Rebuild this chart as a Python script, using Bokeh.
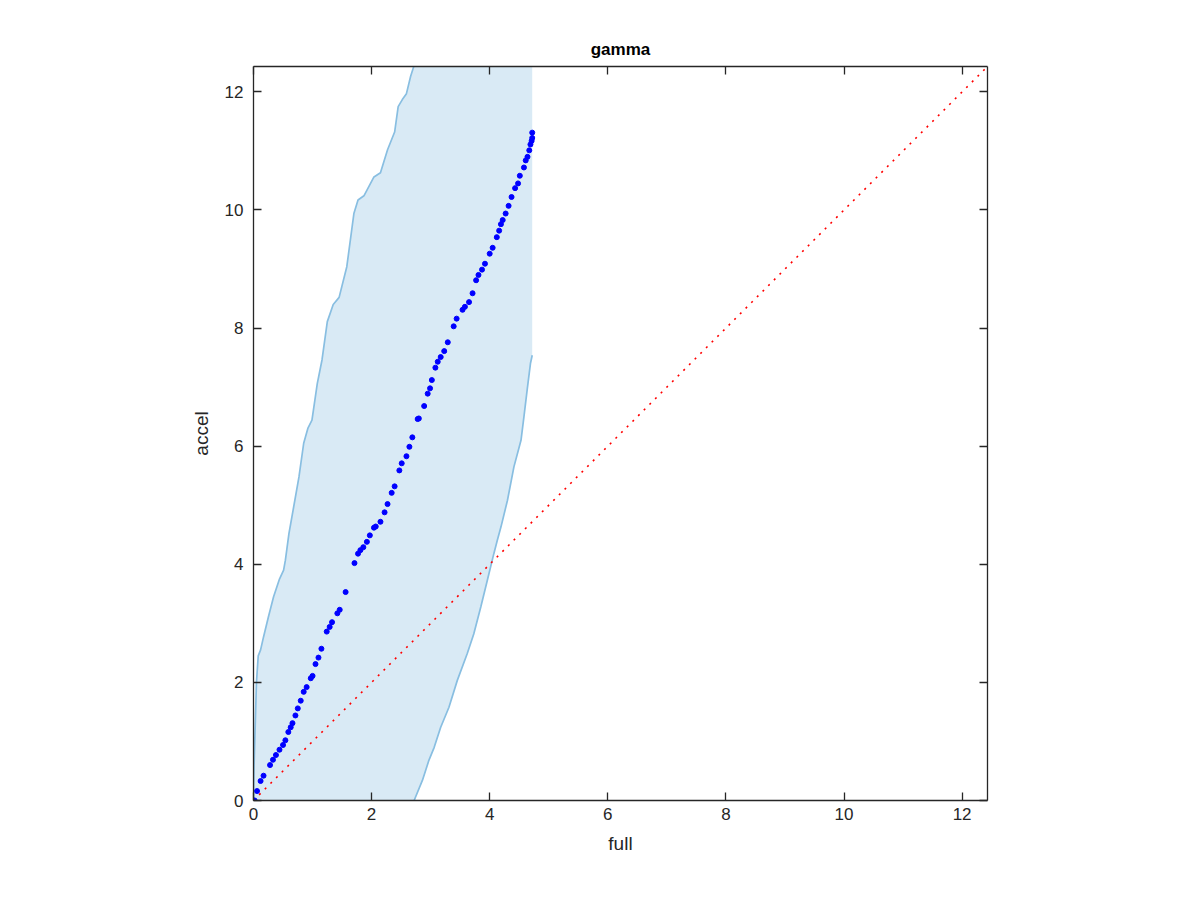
from bokeh.plotting import figure
from bokeh.models import LinearAxis, FixedTicker, Range1d
from bokeh.embed import file_html
from bokeh.resources import INLINE

# ---- data ----
qq_full = [0.0, 0.02, 0.06, 0.12, 0.17, 0.28, 0.33, 0.38, 0.44, 0.50, 0.54, 0.59, 0.63, 0.66,
           0.71, 0.75, 0.80, 0.85, 0.90, 0.97, 1.00, 1.05, 1.10, 1.15, 1.24, 1.29, 1.33,
           1.42, 1.46, 1.56, 1.71, 1.77, 1.81, 1.86, 1.92, 1.97, 2.04, 2.07, 2.15, 2.22,
           2.27, 2.34, 2.39, 2.47, 2.51, 2.59, 2.64, 2.69, 2.78, 2.80, 2.89, 2.95, 2.99,
           3.02, 3.08, 3.12, 3.17, 3.23, 3.29, 3.39, 3.44, 3.54, 3.58, 3.65, 3.71, 3.77,
           3.81, 3.87, 3.92, 4.00, 4.05, 4.12, 4.16, 4.19, 4.22, 4.27, 4.32, 4.37, 4.43,
           4.48, 4.51, 4.58, 4.61, 4.64, 4.67, 4.69, 4.71, 4.72, 4.72]
qq_accel = [0.0, 0.0, 0.16, 0.33, 0.42, 0.60, 0.69, 0.77, 0.86, 0.94, 1.02, 1.16, 1.24, 1.31,
            1.44, 1.56, 1.69, 1.84, 1.92, 2.07, 2.11, 2.31, 2.42, 2.57, 2.86, 2.94, 3.02,
            3.17, 3.23, 3.53, 4.02, 4.18, 4.24, 4.29, 4.38, 4.49, 4.62, 4.64, 4.72, 4.88,
            5.02, 5.21, 5.32, 5.59, 5.71, 5.83, 5.99, 6.15, 6.46, 6.47, 6.68, 6.89, 6.98,
            7.12, 7.33, 7.43, 7.51, 7.61, 7.76, 8.03, 8.16, 8.31, 8.36, 8.44, 8.59, 8.81,
            8.90, 8.99, 9.09, 9.26, 9.36, 9.54, 9.65, 9.76, 9.83, 9.94, 10.07, 10.22, 10.37,
            10.45, 10.58, 10.72, 10.84, 10.90, 11.01, 11.11, 11.17, 11.22, 11.31]

upper_x = [0.0, 0.01, 0.03, 0.05, 0.08, 0.12, 0.17, 0.25, 0.34, 0.44, 0.51, 0.54, 0.60, 0.68,
           0.77, 0.85, 0.92, 0.99, 1.08, 1.16, 1.25, 1.35, 1.45, 1.58, 1.70, 1.77, 1.87,
           2.04, 2.15, 2.27, 2.39, 2.45, 2.52, 2.59, 2.66, 2.72, 2.80, 3.50, 4.72]
upper_y = [0.0, 0.60, 1.30, 2.00, 2.45, 2.55, 2.77, 3.10, 3.45, 3.75, 3.90, 4.07, 4.52, 4.97,
           5.48, 6.05, 6.30, 6.44, 7.06, 7.46, 8.11, 8.40, 8.52, 9.04, 9.94, 10.17, 10.24,
           10.56, 10.63, 11.02, 11.32, 11.75, 11.87, 11.97, 12.26, 12.45, 12.70, 14.00, 16.50]

lower_x = [2.72, 2.86, 2.97, 3.06, 3.17, 3.31, 3.45, 3.62, 3.73, 3.85, 3.96, 4.07, 4.13,
           4.19, 4.30, 4.41, 4.53, 4.58, 4.64, 4.69, 4.72]
lower_y = [0.00, 0.34, 0.68, 0.90, 1.24, 1.58, 2.03, 2.49, 2.82, 3.28, 3.73, 4.18, 4.41,
           4.63, 5.08, 5.65, 6.10, 6.50, 7.00, 7.40, 7.54]

ref_line = [0.0, 12.43]
ticks = [0, 2, 4, 6, 8, 10, 12]
axis_max = 12.43

FONT = "Liberation Sans"
AX_COL = "#262626"

p = figure(frame_width=734, frame_height=734, min_border_left=253, min_border_top=66,
           min_border_right=40, min_border_bottom=70,
           x_range=Range1d(0, axis_max), y_range=Range1d(0, axis_max),
           output_backend="svg", toolbar_location=None, x_axis_location=None,
           y_axis_location=None, title="gamma")
p.grid.visible = False
p.outline_line_color = None
p.background_fill_color = "white"
p.border_fill_color = "white"

p.title.align = "center"
p.title.text_font = FONT
p.title.text_font_size = "17px"
p.title.text_font_style = "bold"
p.title.text_color = "black"
p.title.standoff = 16

# band fill polygon
poly_x = lower_x + upper_x[::-1]
poly_y = lower_y + upper_y[::-1]
p.patch(poly_x, poly_y, fill_color="#D9EAF5", line_color=None)
p.line(upper_x, upper_y, line_color="#88BEE1", line_width=1.7)
p.line(lower_x, lower_y, line_color="#88BEE1", line_width=1.7)

# reference diagonal
p.line(ref_line, ref_line, line_color="red", line_width=1.6, line_dash="2 6")

# qq points
p.scatter(qq_full, qq_accel, size=5, fill_color="blue", line_color="blue")

def mk_axis(show_labels, label=None):
    ax = LinearAxis(ticker=FixedTicker(ticks=ticks))
    ax.major_tick_in = 8
    ax.major_tick_out = 0
    ax.minor_tick_line_color = None
    ax.axis_line_color = AX_COL
    ax.axis_line_width = 1.3
    ax.major_tick_line_color = AX_COL
    ax.major_tick_line_width = 1.3
    ax.major_label_text_font = FONT
    ax.major_label_text_font_size = "17px"
    ax.major_label_text_color = AX_COL if show_labels else None
    if label:
        ax.axis_label = label
        ax.axis_label_text_font = FONT
        ax.axis_label_text_font_size = "19px"
        ax.axis_label_text_font_style = "normal"
        ax.axis_label_text_color = AX_COL
    return ax

xb = mk_axis(True, "full")
xb.major_label_standoff = 7
xb.axis_label_standoff = 10
p.add_layout(xb, "below")

yl = mk_axis(True, "accel")
yl.major_label_standoff = 10
yl.axis_label_standoff = 10
p.add_layout(yl, "left")

xt = mk_axis(False)
xt.major_label_standoff = 0
p.add_layout(xt, "above")
yr = mk_axis(False)
yr.major_label_standoff = 0
p.add_layout(yr, "right")

open("out.html", "w").write(file_html(p, INLINE))
